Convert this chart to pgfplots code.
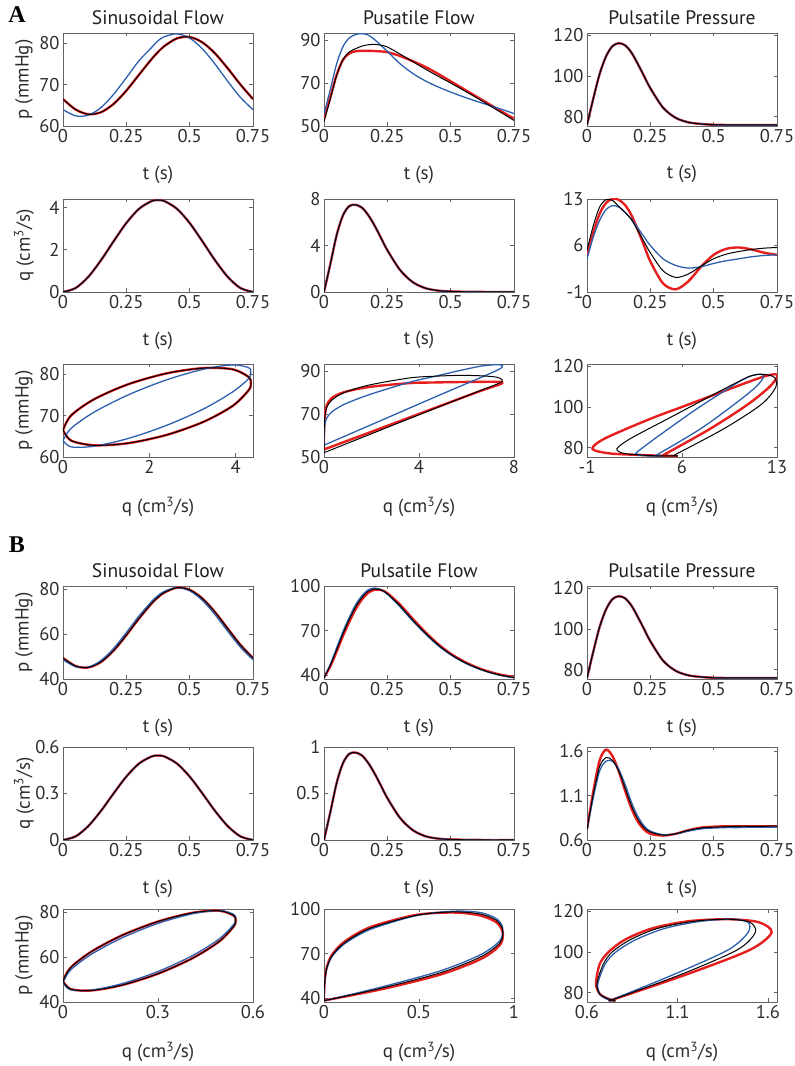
\documentclass[border=0pt]{standalone}
\usepackage{pgfplots}
\usepackage{pgfplotstable}
\pgfplotsset{compat=1.18}
\usepackage{fontspec}
\setmainfont{PT Sans}
\newfontfamily\tnr{Liberation Serif}
\definecolor{mblue}{RGB}{45,95,175}
\definecolor{mred}{RGB}{230,30,30}
\definecolor{axgray}{RGB}{100,100,100}
\definecolor{labgray}{RGB}{45,45,45}

% Sinusoidal flow, panel A
\pgfplotstableread{
t q pb pr
0 0 63.97 66.51
0.05 0.188 62.44 63.97
0.10 0.719 62.61 62.84
0.15 1.503 64.46 63.33
0.20 2.402 67.67 65.35
0.25 3.263 71.67 68.55
0.30 3.934 75.79 72.40
0.35 4.302 79.00 76.20
0.375 4.35 80.63 77.89
0.40 4.302 81.60 79.32
0.45 3.934 82.29 81.20
0.50 3.263 81.26 81.52
0.55 2.402 78.68 80.24
0.60 1.503 74.99 77.57
0.65 0.719 70.84 73.96
0.70 0.188 66.94 70.06
0.75 0 63.97 66.51
}\tAsin
% Sinusoidal flow, panel B
\pgfplotstableread{
t q pb pr
0 0 48.60 49.35
0.05 0.0235 45.46 45.77
0.10 0.0901 45.32 45.14
0.15 0.188 48.24 47.60
0.20 0.301 53.68 52.68
0.25 0.409 60.72 59.55
0.30 0.493 68.13 66.98
0.35 0.539 74.64 73.73
0.375 0.545 77.20 76.45
0.40 0.539 79.12 78.58
0.45 0.493 80.80 80.74
0.50 0.409 79.38 79.80
0.55 0.301 75.11 75.95
0.60 0.188 68.73 69.85
0.65 0.0901 61.34 62.52
0.70 0.0235 54.22 55.27
0.75 0 48.60 49.35
}\tBsin
% Pulsatile flow, panel A
\pgfplotstableread{
t q pr pk pb
0 0 53.5 52.0 55.5
0.025 2.4 63.4 62.6 67.0
0.05 4.9 73.8 73.6 79.0
0.075 6.6 80.8 81.0 87.0
0.1 7.4 83.8 84.5 91.0
0.125 7.5 84.8 86.0 92.6
0.15 7.25 85.0 87.2 93.0
0.175 6.6 85.0 87.8 92.3
0.2 5.7 84.9 88.0 90.2
0.225 4.65 84.7 87.6 87.5
0.25 3.6 84.4 86.8 84.8
0.3 1.9 82.6 83.5 79.0
0.35 0.85 80.2 80.0 74.5
0.4 0.33 77.5 76.5 71.0
0.45 0.12 74.3 73.2 68.2
0.5 0.05 70.8 70.0 65.8
0.55 0.02 67.3 66.7 63.6
0.6 0.01 63.8 63.3 61.6
0.65 0 60.3 59.8 59.7
0.7 0 56.8 56.2 57.8
0.75 0 53.4 52.6 55.8
}\tAflow
% Pulsatile flow, panel B
\pgfplotstableread{
t q pr pk pb
0 0 38.5 38.4 38.3
0.025 0.30 46.0 46.7 47.5
0.05 0.614 56.0 57.2 58.5
0.075 0.827 66.5 68.0 69.5
0.1 0.927 76.0 77.5 79.0
0.125 0.94 84.5 86.0 87.5
0.15 0.908 91.0 92.3 93.5
0.175 0.827 95.5 96.5 97.5
0.2 0.714 97.5 98.0 98.6
0.225 0.583 97.3 97.4 97.5
0.25 0.451 95.2 94.8 94.5
0.3 0.238 87.5 86.8 86.0
0.35 0.107 78.0 77.2 76.5
0.4 0.041 69.0 68.4 67.8
0.45 0.015 61.0 60.5 60.0
0.5 0.006 54.5 54.1 53.8
0.55 0.0025 49.5 49.1 48.8
0.6 0.001 45.5 45.2 45.0
0.65 0 42.5 42.2 42.0
0.7 0 40.3 40.0 39.8
0.75 0 38.8 38.5 38.3
}\tBflow
% Pulsatile pressure, panel A
\pgfplotstableread{
t p qr qk qb
0 76 4.5 5.3 4.0
0.025 89 8.0 9.0 7.3
0.05 101 10.8 11.8 9.8
0.075 109.5 12.4 12.9 11.4
0.1 114.5 13.0 12.8 12.0
0.125 116 12.9 11.9 11.8
0.15 115 12.1 11.0 11.0
0.175 111.5 10.6 9.9 10.0
0.2 106 8.4 8.3 8.7
0.225 100 6.0 6.6 7.3
0.25 94 3.6 4.9 6.0
0.3 84.5 0.3 2.2 4.0
0.35 79.5 -0.6 1.2 3.0
0.4 77.3 0.6 1.7 2.6
0.45 76.5 2.8 2.9 2.8
0.5 76.1 4.6 4.0 3.3
0.55 76.0 5.5 4.7 3.7
0.6 76.0 5.7 5.1 4.0
0.65 76.0 5.4 5.4 4.3
0.7 76.0 4.9 5.6 4.5
0.75 76.0 4.6 5.7 4.6
}\tApres
% Pulsatile pressure, panel B
\pgfplotstableread{
t p qr qk qb
0 76 0.72 0.72 0.72
0.025 89 1.15 1.12 1.08
0.05 101 1.50 1.43 1.38
0.075 109.5 1.62 1.53 1.49
0.1 114.5 1.55 1.50 1.49
0.125 116 1.38 1.38 1.40
0.15 115 1.16 1.19 1.23
0.175 111.5 0.96 0.99 1.03
0.2 106 0.81 0.84 0.87
0.225 100 0.72 0.74 0.76
0.25 94 0.67 0.69 0.70
0.3 84.5 0.65 0.655 0.66
0.35 79.5 0.67 0.67 0.67
0.4 77.3 0.71 0.71 0.70
0.45 76.5 0.74 0.735 0.725
0.5 76.1 0.75 0.745 0.735
0.55 76.0 0.755 0.75 0.74
0.6 76.0 0.755 0.755 0.74
0.65 76.0 0.755 0.755 0.745
0.7 76.0 0.755 0.755 0.745
0.75 76.0 0.755 0.76 0.745
}\tBpres

\newcommand{\fs}{\fontsize{18.5}{20}\selectfont}
\newcommand{\fl}{\fontsize{19}{21}\selectfont}
\pgfplotsset{
  panel/.style={
    scale only axis, width=190pt, height=93pt,
    axis line style={draw=axgray, line width=0.8pt},
    every tick/.style={draw=axgray, line width=0.8pt},
    tick align=inside, major tick length=3.5pt,
    tick label style={font=\fs, text=labgray},
    every axis title/.style={at={(axis description cs:0.5,1.165)}, anchor=center, font=\fontsize{19.5}{22}\selectfont, text=black!88},
    every axis x label/.style={at={(axis description cs:0.5,-0.57)}, anchor=base, font=\fl, text=labgray},
    every axis y label/.style={at={(axis description cs:-0.205,0.5)}, rotate=90, anchor=center, font=\fl, text=labgray},
  },
  trow/.style={xlabel={t (s)}, xmin=0, xmax=0.75, xtick={0,0.25,0.5,0.75}, xticklabels={0,0.25,0.5,0.75}},
  qlab/.style={every axis x label/.style={at={(axis description cs:0.5,-0.6)}, anchor=base, font=\fl, text=labgray}, xlabel={q (cm\textsuperscript{3}/s)}},
  rl/.style={mred, line width=2.4pt, smooth, no marks},
  bl/.style={mblue, line width=1.3pt, smooth, no marks},
  kl/.style={black, line width=1.0pt, smooth, no marks},
}

\begin{document}
\begin{tikzpicture}
\path[use as bounding box] (0,0) rectangle (795pt,1066pt);
\node[font=\tnr\bfseries\fontsize{24}{24}\selectfont] at (17pt,1051pt) {A};
\node[font=\tnr\bfseries\fontsize{24}{24}\selectfont] at (17pt,521pt) {B};

% ---------------- Panel A ----------------
% row 1
\begin{axis}[panel, trow, at={(63pt,1033pt)}, anchor=north west, title={Sinusoidal Flow}, ylabel={p (mmHg)},
  ymin=60, ymax=82.5, ytick={60,70,80}, yticklabels={60,70,80}]
\addplot[rl] table[x=t,y=pr]{\tAsin};
\addplot[bl] table[x=t,y=pb]{\tAsin};
\addplot[kl] table[x=t,y=pr]{\tAsin};
\end{axis}
\begin{axis}[panel, trow, at={(324pt,1033pt)}, anchor=north west, title={Pusatile Flow},
  ymin=50, ymax=93.3, ytick={50,70,90}, yticklabels={50,70,90}]
\addplot[rl] table[x=t,y=pr]{\tAflow};
\addplot[bl] table[x=t,y=pb]{\tAflow};
\addplot[kl] table[x=t,y=pk]{\tAflow};
\end{axis}
\begin{axis}[panel, trow, at={(587pt,1033pt)}, anchor=north west, title={Pulsatile Pressure},
  ymin=75.5, ymax=121, ytick={80,100,120}, yticklabels={80,100,120}]
\addplot[rl] table[x=t,y=p]{\tApres};
\addplot[bl] table[x=t,y=p]{\tApres};
\addplot[kl] table[x=t,y=p]{\tApres};
\end{axis}
% row 2
\begin{axis}[panel, trow, at={(63pt,867pt)}, anchor=north west, ylabel={q (cm\textsuperscript{3}/s)},
  ymin=0, ymax=4.4, ytick={0,2,4}, yticklabels={0,2,4}]
\addplot[rl] table[x=t,y=q]{\tAsin};
\addplot[bl] table[x=t,y=q]{\tAsin};
\addplot[kl] table[x=t,y=q]{\tAsin};
\end{axis}
\begin{axis}[panel, trow, at={(324pt,867pt)}, anchor=north west,
  ymin=0, ymax=8, ytick={0,4,8}, yticklabels={0,4,8}]
\addplot[rl] table[x=t,y=q]{\tAflow};
\addplot[bl] table[x=t,y=q]{\tAflow};
\addplot[kl] table[x=t,y=q]{\tAflow};
\end{axis}
\begin{axis}[panel, trow, at={(587pt,867pt)}, anchor=north west,
  ymin=-1, ymax=13, ytick={-1,6,13}, yticklabels={-1,6,13}]
\addplot[rl] table[x=t,y=qr]{\tApres};
\addplot[bl] table[x=t,y=qb]{\tApres};
\addplot[kl] table[x=t,y=qk]{\tApres};
\end{axis}
% row 3
\begin{axis}[panel, qlab, at={(63pt,702pt)}, anchor=north west, ylabel={p (mmHg)},
  xmin=0, xmax=4.4, xtick={0,2,4}, xticklabels={0,2,4},
  ymin=60, ymax=82.5, ytick={60,70,80}, yticklabels={60,70,80}]
\addplot[rl] table[x=q,y=pr]{\tAsin};
\addplot[bl] table[x=q,y=pb]{\tAsin};
\addplot[kl] table[x=q,y=pr]{\tAsin};
\end{axis}
\begin{axis}[panel, qlab, at={(324pt,702pt)}, anchor=north west,
  xmin=0, xmax=8, xtick={0,4,8}, xticklabels={0,4,8},
  ymin=50, ymax=93.3, ytick={50,70,90}, yticklabels={50,70,90}]
\addplot[rl] table[x=q,y=pr]{\tAflow};
\addplot[bl] table[x=q,y=pb]{\tAflow};
\addplot[kl] table[x=q,y=pk]{\tAflow};
\end{axis}
\begin{axis}[panel, qlab, at={(587pt,702pt)}, anchor=north west,
  xmin=-1, xmax=13, xtick={-1,6,13}, xticklabels={-1,6,13},
  ymin=75.5, ymax=121, ytick={80,100,120}, yticklabels={80,100,120}]
\addplot[rl] table[x=qr,y=p]{\tApres};
\addplot[bl] table[x=qb,y=p]{\tApres};
\addplot[kl] table[x=qk,y=p]{\tApres};
\end{axis}

% ---------------- Panel B ----------------
% row 1
\begin{axis}[panel, trow, at={(63pt,480pt)}, anchor=north west, title={Sinusoidal Flow}, ylabel={p (mmHg)},
  ymin=40, ymax=81.5, ytick={40,60,80}, yticklabels={40,60,80}]
\addplot[rl] table[x=t,y=pr]{\tBsin};
\addplot[bl] table[x=t,y=pb]{\tBsin};
\addplot[kl] table[x=t,y=pr]{\tBsin};
\end{axis}
\begin{axis}[panel, trow, at={(324pt,480pt)}, anchor=north west, title={Pulsatile Flow},
  ymin=37.5, ymax=100, ytick={40,70,100}, yticklabels={40,70,100}]
\addplot[rl] table[x=t,y=pr]{\tBflow};
\addplot[bl] table[x=t,y=pb]{\tBflow};
\addplot[kl] table[x=t,y=pk]{\tBflow};
\end{axis}
\begin{axis}[panel, trow, at={(587pt,480pt)}, anchor=north west, title={Pulsatile Pressure},
  ymin=75.5, ymax=121, ytick={80,100,120}, yticklabels={80,100,120}]
\addplot[rl] table[x=t,y=p]{\tBpres};
\addplot[bl] table[x=t,y=p]{\tBpres};
\addplot[kl] table[x=t,y=p]{\tBpres};
\end{axis}
% row 2
\begin{axis}[panel, trow, at={(63pt,319pt)}, anchor=north west, ylabel={q (cm\textsuperscript{3}/s)},
  ymin=0, ymax=0.6, ytick={0,0.3,0.6}, yticklabels={0,0.3,0.6}]
\addplot[rl] table[x=t,y=q]{\tBsin};
\addplot[bl] table[x=t,y=q]{\tBsin};
\addplot[kl] table[x=t,y=q]{\tBsin};
\end{axis}
\begin{axis}[panel, trow, at={(324pt,319pt)}, anchor=north west,
  ymin=0, ymax=1, ytick={0,0.5,1}, yticklabels={0,0.5,1}]
\addplot[rl] table[x=t,y=q]{\tBflow};
\addplot[bl] table[x=t,y=q]{\tBflow};
\addplot[kl] table[x=t,y=q]{\tBflow};
\end{axis}
\begin{axis}[panel, trow, at={(587pt,319pt)}, anchor=north west,
  ymin=0.6, ymax=1.65, ytick={0.6,1.1,1.6}, yticklabels={0.6,1.1,1.6}]
\addplot[rl] table[x=t,y=qr]{\tBpres};
\addplot[bl] table[x=t,y=qb]{\tBpres};
\addplot[kl] table[x=t,y=qk]{\tBpres};
\end{axis}
% row 3
\begin{axis}[panel, qlab, at={(63pt,157pt)}, anchor=north west, ylabel={p (mmHg)},
  xmin=0, xmax=0.6, xtick={0,0.3,0.6}, xticklabels={0,0.3,0.6},
  ymin=40, ymax=81.5, ytick={40,60,80}, yticklabels={40,60,80}]
\addplot[rl] table[x=q,y=pr]{\tBsin};
\addplot[bl] table[x=q,y=pb]{\tBsin};
\addplot[kl] table[x=q,y=pr]{\tBsin};
\end{axis}
\begin{axis}[panel, qlab, at={(324pt,157pt)}, anchor=north west,
  xmin=0, xmax=1, xtick={0,0.5,1}, xticklabels={0,0.5,1},
  ymin=37.5, ymax=100, ytick={40,70,100}, yticklabels={40,70,100}]
\addplot[rl] table[x=q,y=pr]{\tBflow};
\addplot[bl] table[x=q,y=pb]{\tBflow};
\addplot[kl] table[x=q,y=pk]{\tBflow};
\end{axis}
\begin{axis}[panel, qlab, at={(587pt,157pt)}, anchor=north west,
  xmin=0.6, xmax=1.65, xtick={0.6,1.1,1.6}, xticklabels={0.6,1.1,1.6},
  ymin=75.5, ymax=121, ytick={80,100,120}, yticklabels={80,100,120}]
\addplot[rl] table[x=qr,y=p]{\tBpres};
\addplot[bl] table[x=qb,y=p]{\tBpres};
\addplot[kl] table[x=qk,y=p]{\tBpres};
\end{axis}
\end{tikzpicture}
\end{document}
